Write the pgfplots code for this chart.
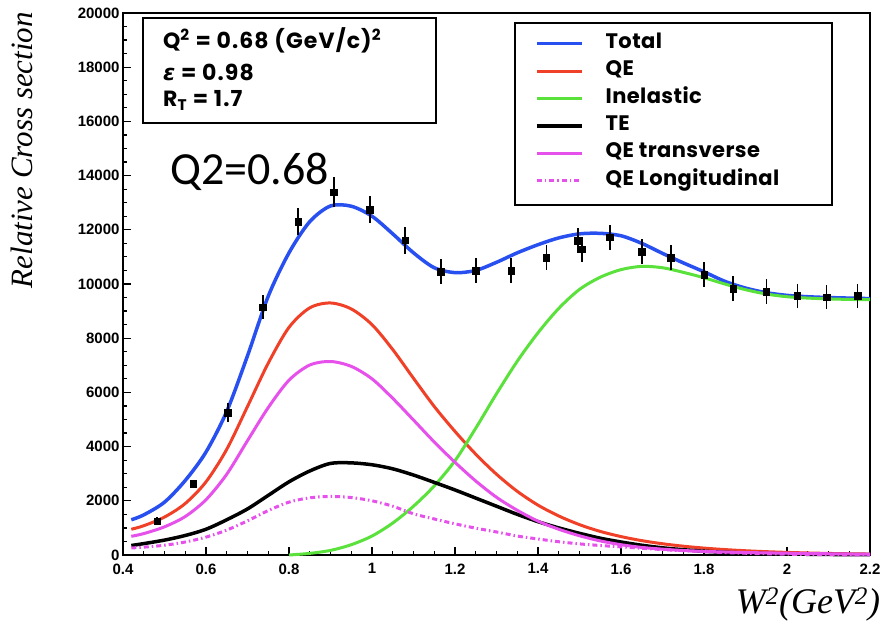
\documentclass[border=0pt]{standalone}
\usepackage{pgfplots}
\pgfplotsset{compat=1.18}
\usepackage{fontspec}
\setmainfont{Liberation Sans}
\newfontfamily\ticksfont{Liberation Sans}
\newfontfamily\geofont{Poppins}[LetterSpace=2]
\newfontfamily\geofontB{Poppins}[LetterSpace=5]
\newfontfamily\dejavu{DejaVu Sans}
\newfontfamily\serifit{Liberation Serif}
\newfontfamily\calibri{Carlito}
\definecolor{cTot}{RGB}{40,80,240}
\definecolor{cQE}{RGB}{240,64,40}
\definecolor{cIn}{RGB}{90,225,60}
\definecolor{cMag}{RGB}{230,80,235}
\begin{document}
\begin{tikzpicture}
\begin{axis}[
  scale only axis, width=747pt, height=542pt,
  xmin=0.4, xmax=2.2, ymin=0, ymax=20000,
  xtick={0.4,0.6,0.8,1.0,1.2,1.4,1.6,1.8,2.0,2.2},
  xticklabels={0.4,0.6,0.8,1,1.2,1.4,1.6,1.8,2,2.2},
  ytick={0,2000,4000,6000,8000,10000,12000,14000,16000,18000,20000},
  yticklabels={0,2000,4000,6000,8000,10000,12000,14000,16000,18000,20000},
  scaled y ticks=false,
  minor x tick num=3, minor y tick num=3,
  tick align=inside, xtick pos=bottom, ytick pos=left,
  major tick length=8pt, minor tick length=4.5pt,
  tick style={black, line width=1.2pt},
  axis line style={line width=1.5pt},
  ticklabel style={font=\ticksfont\bfseries\fontsize{15}{18}\selectfont},
  xticklabel style={yshift=-5pt},
  /pgf/number format/assume math mode=true,
  clip=false,
  legend style={at={(0.5515,0.9612)}, anchor=north west, draw=none, fill=none,
    font=\geofont\bfseries\fontsize{21}{24}\selectfont,
    inner sep=0pt, row sep=8.4pt,
    nodes={inner sep=0pt, text height=14pt, text depth=5pt},
    /tikz/every odd column/.append style={column sep=22pt}},
  legend cell align=left,
  legend image code/.code={\draw[#1] (0pt,0pt) -- (45pt,0pt);},
]
% Total
\addplot[cTot, line width=3.5pt, smooth] coordinates {
(0.42,1300)(0.45,1480)(0.50,1950)(0.55,2750)(0.60,3800)(0.65,5300)(0.70,7350)(0.75,9550)
(0.80,11150)(0.85,12300)(0.90,12880)(0.95,12870)(1.00,12500)(1.05,11850)(1.10,11150)
(1.15,10600)(1.20,10420)(1.25,10500)(1.30,10800)(1.35,11150)(1.40,11450)(1.45,11700)
(1.50,11850)(1.55,11870)(1.60,11780)(1.65,11500)(1.70,11130)(1.75,10780)(1.80,10450)
(1.85,10100)(1.90,9850)(1.95,9680)(2.00,9580)(2.05,9530)(2.10,9500)(2.15,9480)(2.20,9460)};
\addlegendentry{Total}
% QE
\addplot[cQE, line width=3pt, smooth] coordinates {
(0.42,950)(0.45,1080)(0.50,1400)(0.55,1900)(0.60,2700)(0.65,3900)(0.70,5480)(0.75,7080)
(0.80,8400)(0.85,9120)(0.90,9300)(0.95,9080)(1.00,8500)(1.05,7580)(1.10,6520)(1.15,5480)
(1.20,4560)(1.25,3720)(1.30,2980)(1.35,2350)(1.40,1840)(1.45,1440)(1.50,1120)(1.55,870)
(1.60,680)(1.65,530)(1.70,415)(1.75,325)(1.80,255)(1.85,200)(1.90,157)(1.95,123)(2.00,96)
(2.05,75)(2.10,58)(2.15,45)(2.20,35)};
\addlegendentry{QE}
% Inelastic
\addplot[cIn, line width=3pt, smooth] coordinates {
(0.80,0)(0.85,60)(0.90,170)(0.95,380)(1.00,700)(1.05,1180)(1.10,1800)(1.15,2550)(1.20,3480)
(1.25,4680)(1.30,5950)(1.35,7150)(1.40,8200)(1.45,9100)(1.50,9800)(1.55,10250)(1.60,10530)
(1.65,10650)(1.70,10600)(1.75,10430)(1.80,10230)(1.85,10000)(1.90,9790)(1.95,9630)
(2.00,9530)(2.05,9480)(2.10,9450)(2.15,9430)(2.20,9420)};
\addlegendentry{Inelastic}
% TE
\addplot[black, line width=3.5pt, smooth] coordinates {
(0.42,350)(0.45,420)(0.50,550)(0.55,720)(0.60,950)(0.65,1300)(0.70,1700)(0.75,2200)
(0.80,2700)(0.85,3100)(0.90,3380)(0.95,3400)(1.00,3330)(1.05,3180)(1.10,2950)(1.15,2680)
(1.20,2400)(1.25,2100)(1.30,1800)(1.35,1500)(1.40,1230)(1.45,1000)(1.50,800)(1.55,620)
(1.60,480)(1.65,360)(1.70,265)(1.75,195)(1.80,140)(1.85,100)(1.90,72)(1.95,52)(2.00,38)
(2.05,27)(2.10,20)(2.15,14)(2.20,10)};
\addlegendentry{TE}
% QE transverse
\addplot[cMag, line width=3pt, smooth] coordinates {
(0.42,690)(0.45,790)(0.50,1040)(0.55,1420)(0.60,2040)(0.65,2980)(0.70,4220)(0.75,5440)
(0.80,6450)(0.85,7010)(0.90,7140)(0.95,6960)(1.00,6500)(1.05,5780)(1.10,4980)(1.15,4170)
(1.20,3420)(1.25,2730)(1.30,2130)(1.35,1650)(1.40,1250)(1.45,950)(1.50,710)(1.55,520)
(1.60,380)(1.65,280)(1.70,215)(1.75,165)(1.80,135)(1.85,110)(1.90,92)(1.95,78)(2.00,66)
(2.05,55)(2.10,46)(2.15,37)(2.20,30)};
\addlegendentry{QE transverse}
% QE longitudinal
\addplot[cMag, line width=3pt, smooth, dash pattern=on 5pt off 3pt on 1.5pt off 3pt] coordinates {
(0.42,260)(0.45,290)(0.50,360)(0.55,480)(0.60,660)(0.65,920)(0.70,1260)(0.75,1640)
(0.80,1950)(0.85,2110)(0.90,2160)(0.95,2120)(1.00,2000)(1.05,1800)(1.10,1520)(1.15,1330)
(1.20,1150)(1.25,990)(1.30,850)(1.35,700)(1.40,590)(1.45,490)(1.50,410)(1.55,350)
(1.60,300)(1.65,250)(1.70,200)(1.75,160)(1.80,120)(1.85,90)(1.90,65)(1.95,45)(2.00,30)
(2.05,20)(2.10,12)(2.15,8)(2.20,5)};
\addlegendentry{QE Longitudinal}
% data
\addplot[only marks, mark=square*, mark size=3.3pt, black, forget plot,
  error bars/.cd, y dir=both, y explicit, error mark=none,
  error bar style={line width=1.5pt, black}]
  table[x=x, y=y, y error=e] {
x y e
0.482 1250 150
0.569 2630 150
0.653 5250 350
0.737 9150 450
0.822 12300 500
0.908 13380 550
0.995 12750 500
1.080 11620 500
1.166 10460 450
1.250 10500 450
1.335 10500 450
1.420 10980 450
1.496 11600 450
1.506 11280 450
1.573 11720 450
1.650 11200 450
1.720 10980 450
1.800 10350 450
1.870 9830 450
1.950 9720 450
2.025 9560 450
2.095 9520 450
2.170 9560 450
};
% legend box
\draw[line width=2.5pt] (rel axis cs:0.5248,0.9815) rectangle (rel axis cs:0.9491,0.6458);
% info box
\draw[line width=2.5pt] (rel axis cs:0.0268,0.9908) rectangle (rel axis cs:0.419,0.797);
\node[anchor=west, font=\geofontB\bfseries\fontsize{22}{24}\selectfont, inner sep=0pt]
  at (rel axis cs:0.0535,0.950) {Q\textsuperscript{2} = 0.68 (GeV/c)\textsuperscript{2}};
\node[anchor=west, font=\geofontB\bfseries\fontsize{22}{24}\selectfont, inner sep=0pt]
  at (rel axis cs:0.0535,0.891) {{\dejavu\bfseries\itshape ε} = 0.98};
\node[anchor=west, font=\geofontB\bfseries\fontsize{22}{24}\selectfont, inner sep=0pt]
  at (rel axis cs:0.0535,0.838) {R\textsubscript{T} = 1.7};
\node[anchor=base west, font=\calibri\fontsize{46}{50}\selectfont, inner sep=0pt]
  at (rel axis cs:0.063,0.683) {Q2=0.68};
% axis labels
\node[rotate=90, font=\serifit\itshape\fontsize{31}{34}\selectfont]
  at (rel axis cs:-0.1352,0.747) {Relative Cross section};
\node[font=\serifit\itshape\fontsize{36}{40}\selectfont]
  at (rel axis cs:0.917,-0.092) {W\textsuperscript{2}(GeV\textsuperscript{2})};
\coordinate (bbSW) at (rel axis cs:-0.16466,-0.1476);
\coordinate (bbNE) at (rel axis cs:1.0174,1.02399);
\end{axis}
\pgfresetboundingbox
\useasboundingbox (bbSW) rectangle (bbNE);
\end{tikzpicture}
\end{document}
